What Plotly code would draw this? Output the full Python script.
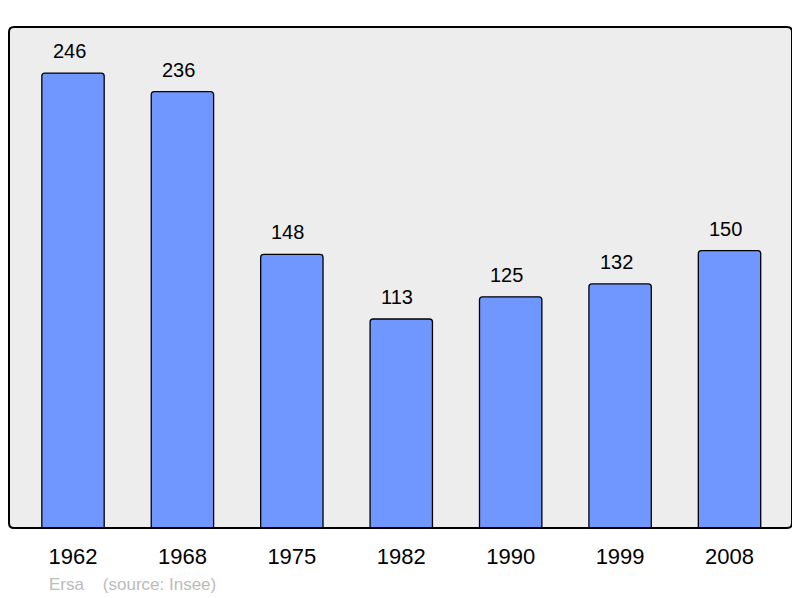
import plotly.graph_objects as go

years = ["1962", "1968", "1975", "1982", "1990", "1999", "2008"]
population = [246, 236, 148, 113, 125, 132, 150]
footer_place = "Ersa"
footer_source = "(source: Insee)"

xpos = list(range(len(years)))

fig = go.Figure()
fig.add_trace(go.Bar(
    x=xpos, y=population, width=0.57,
    marker=dict(color="#7097FF", line=dict(color="#000000", width=1.3), cornerradius=3),
    hoverinfo="skip",
))

for xi, v in zip(xpos, population):
    fig.add_annotation(x=xi, y=v, text=str(v), showarrow=False, xref="x", yref="y",
                       yanchor="middle", yshift=22, xshift=-4,
                       font=dict(family="Liberation Sans, Arial", size=20, color="#000000"))

fig.add_annotation(x=(47 - 9) / 783, y=(528 - 584) / 501, xref="paper", yref="paper",
                   xanchor="left", yanchor="middle", showarrow=False,
                   text=footer_place + "\u00a0\u00a0\u00a0\u00a0" + footer_source,
                   font=dict(family="Liberation Sans, Arial", size=17, color="#BBBBBB"))

# rounded frame
rx = 5 / 783
ry = 5 / 501
path = (f"M {rx},0 L {1-rx},0 Q 1,0 1,{ry} L 1,{1-ry} Q 1,1 {1-rx},1 "
        f"L {rx},1 Q 0,1 0,{1-ry} L 0,{ry} Q 0,0 {rx},0 Z")
fig.add_shape(type="path", path=path, xref="paper", yref="paper",
              line=dict(color="#000000", width=2), layer="above")

fig.update_layout(
    width=786, height=590,
    margin=dict(l=1, r=2, t=19, b=70),
    paper_bgcolor="#FFFFFF", plot_bgcolor="#EDEDED",
    showlegend=False,
    xaxis=dict(range=[-0.585, 6.571], tickmode="array", tickvals=xpos, ticktext=years,
               showgrid=False, zeroline=False, showline=False,
               ticks="outside", ticklen=9, tickcolor="rgba(0,0,0,0)",
               tickfont=dict(family="Liberation Sans, Arial", size=22, color="#000000")),
    yaxis=dict(range=[0, 270.9], showgrid=False, zeroline=False, showline=False,
               showticklabels=False, ticks=""),
)

fig.write_html("out.html")
